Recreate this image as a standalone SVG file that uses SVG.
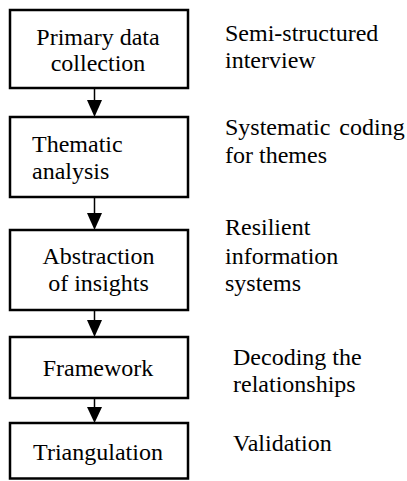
<svg xmlns="http://www.w3.org/2000/svg" width="407" height="481" viewBox="0 0 407 481">
<style>
.box{fill:#fff;stroke:#000;stroke-width:2.5}
.t{font-size:24px;fill:#000}
.c{text-anchor:middle}
.ln{stroke:#000;stroke-width:1.5;fill:none}
.ah{fill:#000}
</style>
<rect width="407" height="481" fill="#fff"/>
<g id="connectors">
<line class="ln" x1="94.5" y1="89" x2="94.5" y2="101"/>
<path class="ah" d="M87,100 L102,100 L94.5,117 Z"/>
<line class="ln" x1="94.5" y1="198" x2="94.5" y2="214"/>
<path class="ah" d="M87,213 L102,213 L94.5,230 Z"/>
<line class="ln" x1="94.5" y1="311" x2="94.5" y2="321"/>
<path class="ah" d="M87,320 L102,320 L94.5,337 Z"/>
<line class="ln" x1="94.5" y1="399" x2="94.5" y2="408"/>
<path class="ah" d="M87,407 L102,407 L94.5,423 Z"/>
</g>
<g font-family="Liberation Serif, Times New Roman, DejaVu Serif, serif">
<g id="node1">
<rect class="box" x="10" y="10" width="178" height="78"/>
<text class="t c" x="98" y="45">Primary data</text>
<text class="t c" x="98" y="71">collection</text>
</g>
<g id="node2">
<rect class="box" x="10" y="117" width="178" height="80"/>
<text class="t" x="32" y="152">Thematic</text>
<text class="t" x="32" y="179">analysis</text>
</g>
<g id="node3">
<rect class="box" x="10" y="230" width="178" height="80"/>
<text class="t c" x="98.5" y="264">Abstraction</text>
<text class="t c" x="98.5" y="291">of insights</text>
</g>
<g id="node4">
<rect class="box" x="10" y="337" width="178" height="61"/>
<text class="t c" x="98" y="376">Framework</text>
</g>
<g id="node5">
<rect class="box" x="10" y="423" width="178" height="55.5"/>
<text class="t c" x="98" y="460">Triangulation</text>
</g>
<g id="labels">
<text class="t" x="225" y="41">Semi-structured</text>
<text class="t" x="225" y="68">interview</text>
<text class="t" x="225" y="135" word-spacing="3">Systematic coding</text>
<text class="t" x="225" y="163">for themes</text>
<text class="t" x="225" y="235">Resilient</text>
<text class="t" x="225" y="264">information</text>
<text class="t" x="225" y="291">systems</text>
<text class="t" x="233" y="365">Decoding the</text>
<text class="t" x="233" y="392">relationships</text>
<text class="t" x="233" y="451">Validation</text>
</g>
</g>
</svg>
